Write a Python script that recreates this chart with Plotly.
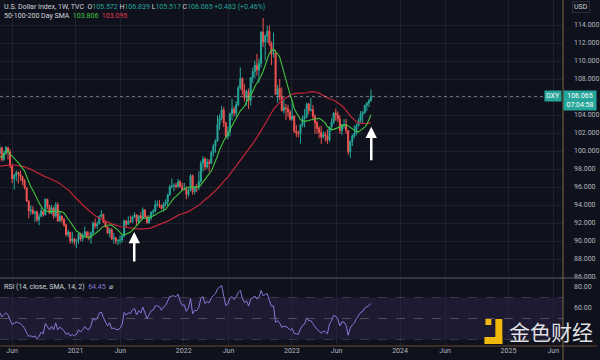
import pandas as pd
import plotly.graph_objects as go

# ---------------- data (weekly DXY candles) ----------------
# closes before the visible window (used only to warm up the moving averages / RSI)
pre_closes = [96.13, 97.29, 96.82, 97.16, 98.02, 98.09, 97.57, 98.14, 97.62, 98.92,
              98.41, 98.29, 98.46, 99.11, 98.82, 98.31, 97.28, 97.83, 97.24, 98.36,
              97.97, 98.27, 98.27, 97.70, 97.18, 97.67, 96.92, 96.84, 97.36, 97.60,
              97.87, 97.39, 98.69, 99.10, 99.25, 98.13, 95.94, 98.75, 102.82, 98.37,
              100.58, 99.52, 99.76]

first_week = "2020-04-20"

opens_2020 = [99.76, 100.37, 99.06, 99.76, 100.39, 99.86, 98.34, 96.93, 97.33, 97.62, 97.43, 97.17,
              96.66, 95.91, 94.44, 93.35, 93.44, 93.09, 93.23, 92.36, 92.71, 93.33, 92.93, 94.64,
              93.84, 93.07, 93.69, 92.77, 94.04, 92.23, 92.76, 92.39, 91.79, 90.70, 90.98, 90.02, 90.22]
highs_2020 = [100.93, 100.46, 100.04, 100.56, 100.45, 100.20, 98.48, 97.44, 97.84, 97.72, 97.81, 97.25,
              96.89, 95.96, 94.49, 93.99, 93.86, 93.37, 93.40, 93.05, 93.66, 93.37, 94.74, 94.69,
              94.04, 94.01, 93.81, 94.31, 94.30, 93.21, 92.83, 92.53, 91.92, 91.25, 91.01, 91.02, 90.35]
lows_2020 = [99.64, 98.82, 98.89, 99.57, 99.06, 98.09, 96.43, 95.71, 96.62, 96.37, 96.68, 96.23,
             95.73, 94.34, 92.52, 92.93, 92.92, 92.12, 92.12, 91.75, 92.70, 92.70, 92.83, 93.52,
             92.97, 92.98, 92.47, 92.61, 92.13, 92.13, 92.02, 91.59, 90.50, 90.42, 89.72, 89.74, 89.52]
closes_2020 = [100.37, 99.06, 99.76, 100.39, 99.86, 98.34, 96.93, 97.33, 97.62, 97.43, 97.17, 96.66,
               95.91, 94.44, 93.35, 93.44, 93.09, 93.23, 92.36, 92.71, 93.33, 92.93, 94.64, 93.84,
               93.07, 93.69, 92.77, 94.04, 92.23, 92.76, 92.39, 91.79, 90.70, 90.98, 90.02, 90.22, 89.94]

opens_2021 = [89.94, 90.10, 90.77, 90.23, 90.58, 91.03, 90.48, 90.36, 90.88, 91.98, 91.68, 91.92,
              92.77, 92.95, 92.17, 91.56, 90.85, 91.28, 90.22, 90.32, 90.02, 90.03, 90.13, 90.55,
              92.22, 91.85, 92.23, 92.13, 92.68, 92.90, 92.17, 92.80, 92.52, 93.47, 92.69, 92.03,
              92.58, 93.20, 93.32, 94.04, 94.07, 93.97, 93.61, 94.12, 94.33, 95.13, 96.03, 96.09,
              96.16, 96.08, 96.60, 96.03]
highs_2021 = [90.20, 90.95, 90.94, 90.90, 91.60, 91.05, 91.04, 91.05, 92.17, 92.51, 92.16, 92.84,
              93.44, 93.04, 92.24, 91.63, 91.43, 91.43, 90.91, 90.49, 90.20, 90.63, 90.62, 92.41,
              92.32, 92.74, 92.83, 92.83, 93.19, 93.00, 92.89, 93.19, 93.73, 93.50, 92.86, 92.88,
              93.29, 93.53, 94.50, 94.50, 94.56, 94.02, 94.31, 94.63, 95.27, 96.26, 96.94, 96.41,
              96.46, 96.91, 96.75, 96.45]
lows_2021 = [89.21, 89.68, 89.97, 89.91, 90.48, 90.37, 90.08, 89.68, 90.63, 91.37, 91.30, 91.84,
             92.60, 91.99, 91.51, 90.80, 90.42, 90.14, 89.69, 89.65, 89.53, 89.66, 89.81, 90.40,
             91.51, 91.78, 92.00, 91.98, 92.55, 91.78, 91.94, 92.44, 92.50, 92.60, 91.94, 91.94,
             92.30, 92.88, 93.16, 93.78, 93.67, 93.50, 93.28, 93.87, 93.87, 95.04, 95.84, 95.52,
             95.84, 95.87, 95.96, 95.61]
closes_2021 = [90.10, 90.77, 90.23, 90.58, 91.03, 90.48, 90.36, 90.88, 91.98, 91.68, 91.92, 92.77,
               92.95, 92.17, 91.56, 90.85, 91.28, 90.22, 90.32, 90.02, 90.03, 90.13, 90.55, 92.22,
               91.85, 92.23, 92.13, 92.68, 92.90, 92.17, 92.80, 92.52, 93.47, 92.69, 92.03, 92.58,
               93.20, 93.32, 94.04, 94.07, 93.97, 93.61, 94.12, 94.33, 95.13, 96.03, 96.09, 96.16,
               96.08, 96.60, 96.03, 95.67]

opens_2022 = [95.67, 95.75, 95.17, 95.64, 97.27, 95.48, 96.07, 96.04, 96.62, 98.66, 99.12, 98.23,
              98.79, 98.63, 99.82, 100.52, 101.12, 102.96, 103.66, 104.56, 103.16, 101.66, 102.14, 104.15,
              104.67, 104.20, 105.14, 107.01, 108.07, 106.73, 105.90, 106.61, 105.62, 108.16, 108.82, 109.54,
              109.00, 109.73, 113.19, 112.12, 112.80, 113.31, 111.98, 110.76, 110.87, 106.29, 106.93, 106.00,
              104.51, 104.82, 104.69, 104.32]
highs_2022 = [96.46, 96.10, 95.84, 97.44, 97.38, 96.10, 96.36, 97.74, 98.93, 99.42, 99.30, 99.16,
              99.09, 100.02, 100.76, 101.30, 103.93, 104.07, 105.01, 104.86, 103.21, 102.74, 104.26, 105.79,
              104.97, 105.53, 107.27, 109.29, 108.16, 107.43, 106.81, 106.93, 108.22, 109.27, 110.03, 110.79,
              110.26, 113.33, 114.78, 112.94, 113.92, 113.95, 112.17, 113.15, 111.25, 107.34, 108.00, 107.06,
              105.73, 105.22, 105.12, 104.58]
lows_2022 = [95.66, 94.63, 94.89, 95.52, 95.14, 95.20, 95.43, 95.66, 96.43, 97.71, 97.87, 98.03,
             97.69, 98.53, 99.41, 99.82, 101.00, 102.35, 103.41, 102.66, 101.43, 101.29, 101.64, 103.41,
             103.86, 103.72, 104.95, 106.83, 106.25, 105.49, 105.03, 104.64, 105.04, 107.56, 108.08, 108.36,
             107.59, 109.29, 111.56, 110.05, 112.05, 111.67, 109.54, 110.39, 106.27, 105.34, 105.62, 104.37,
             104.15, 103.45, 103.79, 103.37]
closes_2022 = [95.75, 95.17, 95.64, 97.27, 95.48, 96.07, 96.04, 96.62, 98.66, 99.12, 98.23, 98.79,
               98.63, 99.82, 100.52, 101.12, 102.96, 103.66, 104.56, 103.16, 101.66, 102.14, 104.15, 104.67,
               104.20, 105.14, 107.01, 108.07, 106.73, 105.90, 106.61, 105.62, 108.16, 108.82, 109.54, 109.00,
               109.73, 113.19, 112.12, 112.80, 113.31, 111.98, 110.76, 110.87, 106.29, 106.93, 106.00, 104.51,
               104.82, 104.69, 104.32, 103.52]

opens_2023 = [103.52, 103.88, 102.20, 102.01, 101.92, 102.92, 103.63, 103.87, 105.21, 104.52, 104.58, 103.86,
              103.12, 102.51, 102.08, 101.55, 101.83, 101.66, 101.22, 102.68, 103.20, 104.21, 104.02, 103.56,
              102.27, 102.91, 102.91, 102.27, 99.92, 101.08, 101.67, 101.98, 102.84, 103.39, 104.08, 104.26,
              105.07, 105.32, 105.572]
highs_2023 = [105.63, 103.95, 102.90, 102.26, 103.01, 103.96, 104.67, 105.36, 105.36, 105.88, 105.11, 104.07,
              103.36, 102.77, 102.81, 102.20, 102.13, 102.40, 102.73, 103.63, 104.32, 104.70, 104.40, 103.99,
              103.01, 103.55, 103.57, 102.30, 101.16, 101.84, 102.84, 103.05, 103.68, 104.44, 104.45, 105.16,
              105.43, 105.78, 106.839]
lows_2023 = [103.38, 101.99, 101.53, 101.50, 100.82, 102.64, 102.63, 103.62, 104.10, 104.40, 103.43, 101.92,
             101.91, 101.41, 100.79, 101.39, 101.04, 100.79, 101.01, 102.27, 102.99, 103.37, 103.21, 101.92,
             101.76, 102.47, 101.89, 99.58, 99.22, 100.55, 101.42, 101.74, 102.70, 103.10, 103.02, 104.15,
             104.42, 104.88, 105.517]
closes_2023 = [103.88, 102.20, 102.01, 101.92, 102.92, 103.63, 103.87, 105.21, 104.52, 104.58, 103.86, 103.12,
               102.51, 102.08, 101.55, 101.83, 101.66, 101.22, 102.68, 103.20, 104.21, 104.02, 103.56, 102.27,
               102.91, 102.91, 102.27, 99.92, 101.08, 101.67, 101.98, 102.84, 103.39, 104.08, 104.26, 105.07,
               105.32, 105.58, 106.065]

tick_dates = ["2020-06-01", "2021-01-01", "2021-06-01", "2022-01-01", "2022-06-01", "2023-01-01",
              "2023-06-01", "2024-01-01", "2024-06-01", "2025-01-01", "2025-06-01"]
tick_labels = ["Jun", "2021", "Jun", "2022", "Jun", "2023", "Jun", "2024", "Jun", "2025", "Jun"]
price_grid = [86, 88, 90, 92, 94, 96, 98, 100, 102, 104, 106, 108, 110, 112, 114]
price_labels = [86, 88, 90, 92, 94, 96, 98, 100, 102, 104, 108, 110, 112, 114]
rsi_ticks = [60, 80]
last_price = 106.065

# ---------------- assemble ----------------
opens = opens_2020 + opens_2021 + opens_2022 + opens_2023
highs = highs_2020 + highs_2021 + highs_2022 + highs_2023
lows = lows_2020 + lows_2021 + lows_2022 + lows_2023
closes = closes_2020 + closes_2021 + closes_2022 + closes_2023
assert len(opens) == len(highs) == len(lows) == len(closes)
weeks = pd.date_range(first_week, periods=len(closes), freq="7D")

series = pd.Series(pre_closes + closes)
n_pre = len(pre_closes)
sma_fast = series.rolling(10).mean().iloc[n_pre:].tolist()
sma_slow = series.rolling(40).mean().iloc[n_pre:].tolist()


def rsi(values, n=14):
    out = [None] * len(values)
    ups, dns = [], []
    for i in range(1, len(values)):
        ch = values[i] - values[i - 1]
        ups.append(max(ch, 0.0))
        dns.append(max(-ch, 0.0))
    au = ad = None
    for k in range(len(ups)):
        if k + 1 < n:
            continue
        if au is None:
            au = sum(ups[:n]) / n
            ad = sum(dns[:n]) / n
        else:
            au = (au * (n - 1) + ups[k]) / n
            ad = (ad * (n - 1) + dns[k]) / n
        out[k + 1] = 100.0 if ad == 0 else 100 - 100 / (1 + au / ad)
    return out


rsi_vals = rsi(list(series))[n_pre:]

# ---------------- style ----------------
BG = "#0f121d"
GRID = "rgba(42,46,57,0.55)"
UP = "#26a69a"
DN = "#ef5350"
TXT = "#b2b5be"
FONT = "Roboto"
PW, PH = 566, 345


def fx(px):
    return px / PW


def fy(py):
    return (PH - py) / PH


fig = go.Figure()
fig.add_trace(go.Candlestick(
    x=weeks, open=opens, high=highs, low=lows, close=closes,
    increasing=dict(line=dict(color=UP, width=1), fillcolor=UP),
    decreasing=dict(line=dict(color=DN, width=1), fillcolor=DN),
    whiskerwidth=0, showlegend=False, hoverinfo="skip", xaxis="x", yaxis="y"))
fig.add_trace(go.Scatter(x=weeks, y=sma_slow, mode="lines", line=dict(color="#c2253a", width=1.2),
                         showlegend=False, hoverinfo="skip", xaxis="x", yaxis="y"))
fig.add_trace(go.Scatter(x=weeks, y=sma_fast, mode="lines", line=dict(color="#43c33f", width=1.1),
                         showlegend=False, hoverinfo="skip", xaxis="x", yaxis="y"))
fig.add_trace(go.Scatter(x=weeks, y=rsi_vals, mode="lines", line=dict(color="#8a78d6", width=1),
                         showlegend=False, hoverinfo="skip", xaxis="x2", yaxis="y2"))

x_range = ["2020-04-21", "2025-07-04"]
axis_common = dict(showline=False, zeroline=False, ticks="")
fig.update_layout(
    width=600, height=360, margin=dict(l=0, r=34, t=0, b=15),
    paper_bgcolor=BG, plot_bgcolor=BG, font=dict(family=FONT, color=TXT, size=7),
    xaxis=dict(domain=[0, 1], anchor="y", range=x_range, tickvals=tick_dates, showticklabels=False,
               showgrid=True, gridcolor=GRID, gridwidth=1, rangeslider=dict(visible=False), **axis_common),
    xaxis2=dict(domain=[0, 1], anchor="y2", matches="x", range=x_range, tickvals=tick_dates,
                ticktext=tick_labels, showgrid=True, gridcolor=GRID, gridwidth=1,
                tickfont=dict(size=7, color=TXT), rangeslider=dict(visible=False), **axis_common),
    yaxis=dict(domain=[fy(277), 1], anchor="x", range=[86.0, 116.78], side="right",
               tickvals=price_grid, ticktext=[f"{v:.3f}" if v in price_labels else "" for v in price_grid],
               showgrid=True, gridcolor=GRID, tickfont=dict(size=7, color=TXT), ticklabelstandoff=10,
               **axis_common),
    yaxis2=dict(domain=[0, fy(279)], anchor="x2", range=[24.8, 87.6], side="right",
                tickvals=rsi_ticks, ticktext=[f"{v:.2f}" for v in rsi_ticks], showgrid=False,
                tickfont=dict(size=7, color=TXT), ticklabelstandoff=10, **axis_common),
)

shapes = [
    dict(type="rect", xref="paper", yref="y2", x0=0, x1=1, y0=30, y1=70,
         fillcolor="rgba(126,87,194,0.13)", line=dict(width=0), layer="below"),
    dict(type="line", xref="paper", yref="y2", x0=0, x1=1, y0=70, y1=70,
         line=dict(color="rgba(120,123,134,0.35)", width=1, dash="dash")),
    dict(type="line", xref="paper", yref="y2", x0=0, x1=1, y0=50, y1=50,
         line=dict(color="rgba(120,123,134,0.55)", width=1, dash="dash")),
    dict(type="line", xref="paper", yref="y2", x0=0, x1=1, y0=30, y1=30,
         line=dict(color="rgba(120,123,134,0.35)", width=1, dash="dash")),
    dict(type="line", xref="paper", yref="y", x0=0, x1=1, y0=last_price, y1=last_price,
         line=dict(color="rgba(190,195,205,0.55)", width=1, dash="dot")),
    dict(type="line", xref="paper", yref="paper", x0=0, x1=fx(600), y0=fy(278), y1=fy(278),
         line=dict(color="#5a5d68", width=1)),
    dict(type="line", xref="paper", yref="paper", x0=0, x1=fx(600), y0=fy(346), y1=fy(346),
         line=dict(color="#6e4a30", width=1)),
    dict(type="line", xref="paper", yref="paper", x0=1, x1=1, y0=fy(360), y1=1,
         line=dict(color="#7d6a3e", width=1)),
    # watermark icon
    dict(type="rect", xref="paper", yref="paper", x0=fx(498), x1=fx(505), y0=fy(344), y1=fy(319),
         fillcolor="#f0b90b", line=dict(width=0)),
    dict(type="rect", xref="paper", yref="paper", x0=fx(487), x1=fx(505), y0=fy(344), y1=fy(337),
         fillcolor="#f0b90b", line=dict(width=0)),
    dict(type="rect", xref="paper", yref="paper", x0=fx(488), x1=fx(494), y0=fy(325), y1=fy(319),
         fillcolor="#f0b90b", line=dict(width=0)),
]
fig.update_layout(shapes=shapes)

G = "#26a69a"
hdr1 = ("U.S. Dollar Index, 1W, TVC  "
        f"O<span style='color:{G}'>105.572</span> H<span style='color:{G}'>106.839</span> "
        f"L<span style='color:{G}'>105.517</span> C<span style='color:{G}'>106.065</span> "
        f"<span style='color:{G}'>+0.483 (+0.46%)</span>")
hdr2 = ("50-100-200 Day SMA  <span style='color:#43c33f'>103.806</span>  "
        "<span style='color:#e0394b'>103.095</span>")
hdr3 = "RSI (14, close, SMA, 14, 2)  <span style='color:#8a78d6'>64.45</span>  ⌀"

annotations = [
    dict(xref="paper", yref="paper", x=fx(2), y=fy(7), text=hdr1, showarrow=False,
         xanchor="left", yanchor="middle", font=dict(size=7, color="#d1d4dc")),
    dict(xref="paper", yref="paper", x=fx(2), y=fy(16), text=hdr2, showarrow=False,
         xanchor="left", yanchor="middle", font=dict(size=7, color="#d1d4dc")),
    dict(xref="paper", yref="paper", x=fx(2), y=fy(287), text=hdr3, showarrow=False,
         xanchor="left", yanchor="middle", font=dict(size=7, color="#d1d4dc")),
    dict(xref="paper", yref="y", x=fx(565), y=last_price, text="DXY", showarrow=False,
         xanchor="right", yanchor="middle", bgcolor=G, font=dict(size=7, color="#ffffff"), borderpad=1),
    dict(xref="paper", yref="y", x=fx(583), y=last_price, text="106.065<br>07:04:58", showarrow=False,
         xanchor="center", yanchor="top", yshift=6, bgcolor=G, font=dict(size=7, color="#ffffff"),
         borderpad=1, width=30),
    dict(xref="paper", yref="paper", x=fx(584), y=fy(7), text="USD", showarrow=False,
         xanchor="center", yanchor="middle", bordercolor="#2a2e39", borderwidth=1, borderpad=1,
         font=dict(size=7, color="#d1d4dc")),
    dict(xref="x", yref="y", x="2021-07-18", y=91.0, ax=0, ay=31, text="", showarrow=True,
         arrowhead=2, arrowsize=0.9, arrowwidth=2.5, arrowcolor="#ffffff"),
    dict(xref="x", yref="y", x="2023-09-26", y=102.7, ax=0, ay=35, text="", showarrow=True,
         arrowhead=2, arrowsize=0.9, arrowwidth=2.5, arrowcolor="#ffffff"),
    dict(xref="paper", yref="paper", x=fx(598), y=fy(331), text="金色财经", showarrow=False,
         xanchor="right", yanchor="middle",
         font=dict(family="Noto Sans CJK SC", size=21, color="rgba(255,255,255,0.88)")),
]
fig.update_layout(annotations=annotations)

fig.write_html("out.html", config={"displayModeBar": False},
               post_script="document.body.style.margin='0';document.body.style.overflow='hidden';")
